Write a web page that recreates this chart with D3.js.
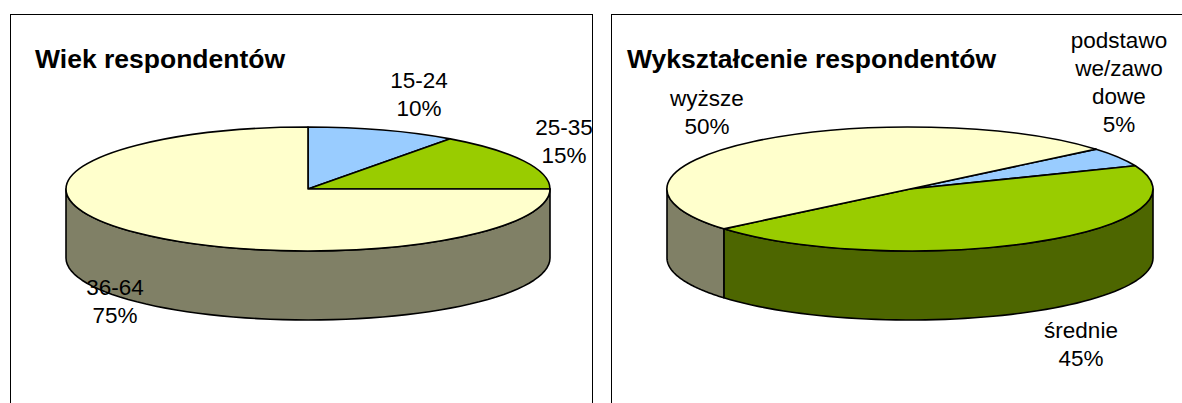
<!DOCTYPE html>
<html>
<head>
<meta charset="utf-8">
<script src="https://cdnjs.cloudflare.com/ajax/libs/d3/7.8.5/d3.min.js"></script>
<style>
  body { margin: 0; background: #fff; overflow: hidden; }
  text { font-family: "Liberation Sans", Arial, sans-serif; fill: #000; }
</style>
</head>
<body>
<div id="chart"></div>
<script>
// data
var ageCategories = ["15-24", "25-35", "36-64"];
var ageValues = [10, 15, 75];
var eduCategories = ["podstawowe/zawodowe", "średnie", "wyższe"];
var eduLabelLines = [["podstawo", "we/zawo", "dowe"], ["średnie"], ["wyższe"]];
var eduValues = [5, 45, 50];

// colours (top face / side face)
var topColors = { "15-24": "#99ccff", "25-35": "#99cc00", "36-64": "#ffffcc",
                  "podstawowe/zawodowe": "#99ccff", "średnie": "#99cc00", "wyższe": "#ffffcc" };
var sideColors = { "15-24": "#4d6680", "25-35": "#4d6600", "36-64": "#808066",
                   "podstawowe/zawodowe": "#4d6680", "średnie": "#4d6600", "wyższe": "#808066" };

var W = 1182, H = 403;

var svg = d3.select("#chart")
  .append("svg")
    .attr("width", W)
    .attr("height", H)
    .style("display", "block");

function drawPie(opt) {
  var clipId = "clip" + opt.id;
  svg.append("clipPath").attr("id", clipId)
    .append("rect")
      .attr("x", opt.box.x).attr("y", opt.box.y)
      .attr("width", opt.box.w).attr("height", opt.box.h);

  var g = svg.append("g").attr("clip-path", "url(#" + clipId + ")");

  // panel border
  g.append("rect")
    .attr("x", opt.box.x).attr("y", opt.box.y)
    .attr("width", opt.box.w).attr("height", opt.box.h)
    .attr("fill", "#fff")
    .attr("stroke", "#000")
    .attr("stroke-width", 2);

  g.append("text")
    .attr("x", opt.titleX).attr("y", opt.titleY)
    .style("font-size", "26.5px")
    .style("font-weight", "bold")
    .text(opt.title);

  var total = d3.sum(opt.values);
  var pie = d3.pie()
    .sort(null)
    .startAngle(opt.start)
    .endAngle(opt.start + 2 * Math.PI)
    .value(function(d) { return d.value; });

  var data = opt.cats.map(function(c, i) { return { cat: c, value: opt.values[i], lines: opt.lines[i] }; });
  var arcs = pie(data);

  var rx = opt.rx, ry = opt.ry, depth = opt.depth;
  function px(t) { return opt.cx + rx * Math.sin(t); }
  function py(t) { return opt.cy - ry * Math.cos(t); }

  // side faces: only the front half (pi/2 .. 3pi/2) is visible
  var line = d3.line();
  arcs.forEach(function(a) {
    for (var k = 0; k < 2; k++) {
      var lo = Math.max(a.startAngle, Math.PI / 2 + 2 * Math.PI * k);
      var hi = Math.min(a.endAngle, 3 * Math.PI / 2 + 2 * Math.PI * k);
      if (hi <= lo) continue;
      var n = 60, pts = [], bottom = [];
      for (var i = 0; i <= n; i++) {
        var t = lo + (hi - lo) * i / n;
        pts.push([px(t), py(t)]);
        bottom.push([px(t), py(t) + depth]);
      }
      pts = pts.concat(bottom.reverse());
      g.append("path")
        .attr("d", line(pts) + "Z")
        .attr("fill", sideColors[a.data.cat])
        .attr("stroke", "#000")
        .attr("stroke-width", 1.6)
        .attr("stroke-linejoin", "round");
    }
  });

  // top faces: circular arcs squashed into an ellipse
  var arc = d3.arc().innerRadius(0).outerRadius(rx);
  var top = g.append("g")
    .attr("transform", "translate(" + opt.cx + "," + opt.cy + ") scale(1," + (ry / rx) + ")");
  top.selectAll("path")
    .data(arcs)
    .enter()
    .append("path")
      .attr("d", arc)
      .attr("fill", function(d) { return topColors[d.data.cat]; })
      .attr("stroke", "#000")
      .attr("stroke-width", 1.6)
      .attr("stroke-linejoin", "round")
      .attr("vector-effect", "non-scaling-stroke");

  // data labels
  arcs.forEach(function(a, i) {
    var pos = opt.labelPos[i];
    var lines = a.data.lines.concat([Math.round(a.data.value / total * 100) + "%"]);
    var txt = g.append("text")
      .attr("text-anchor", "middle")
      .style("font-size", "22.5px");
    lines.forEach(function(l, j) {
      txt.append("tspan")
        .attr("x", pos[0])
        .attr("y", pos[1] + j * 28)
        .text(l);
    });
  });
}

drawPie({
  id: 1,
  box: { x: 10, y: 14, w: 583, h: 500 },
  title: "Wiek respondentów", titleX: 35, titleY: 68,
  cats: ageCategories, values: ageValues, lines: ageCategories.map(function(c) { return [c]; }),
  start: 0,
  cx: 308, cy: 189, rx: 242, ry: 62, depth: 69,
  labelPos: [[419, 88], [564, 135], [115, 295]]
});

drawPie({
  id: 2,
  box: { x: 611, y: 14, w: 700, h: 500 },
  title: "Wykształcenie respondentów", titleX: 627, titleY: 68,
  cats: eduCategories, values: eduValues, lines: eduLabelLines,
  start: 50 * Math.PI / 180,
  cx: 910, cy: 189, rx: 243, ry: 62, depth: 69,
  labelPos: [[1119, 48], [1081, 338], [707, 106]]
});
</script>
</body>
</html>
